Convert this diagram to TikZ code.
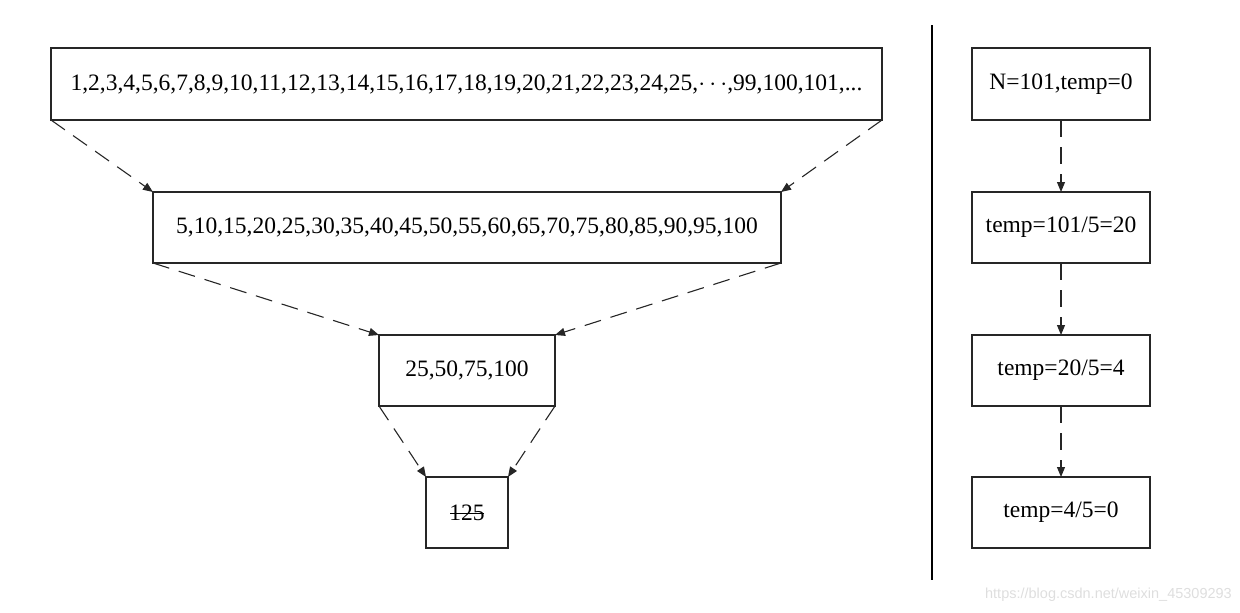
\documentclass[tikz,border=0pt]{standalone}
\usepackage{fontspec}
\setmainfont{Liberation Serif}
\newfontfamily\wmfont{Liberation Sans}
\usetikzlibrary{arrows.meta}
\tikzset{
  box/.style={draw=black!85, line width=1.1pt, outer sep=0pt, inner sep=0pt, align=center,
    font=\fontsize{23.5}{27}\selectfont},
  flow/.style={draw=black!85, line width=1.1pt, dash pattern=on 17pt off 10pt,
    -{Triangle[length=10pt,width=8pt]}},
  sep/.style={draw=black, line width=1.1pt}
}
\begin{document}
\begin{tikzpicture}[x=1pt,y=-1pt]
\useasboundingbox (0,0) rectangle (1240,613);
% left funnel
\node[box, minimum width=831pt, minimum height=72pt] (a) at (466.5,84) {1,2,3,4,5,6,7,8,9,10,11,12,13,14,15,16,17,18,19,20,21,22,23,24,25,${\cdots}$,99,100,101,...};
\node[box, minimum width=628pt, minimum height=71pt] (b) at (467,227.5) {5,10,15,20,25,30,35,40,45,50,55,60,65,70,75,80,85,90,95,100};
\node[box, minimum width=176pt, minimum height=71pt] (c) at (467,370.5) {25,50,75,100};
\node[box, minimum width=82pt, minimum height=71pt] (d) at (467,512.5) {125};
\draw[line width=1pt] ([xshift=-17pt,yshift=-1pt]d.center) -- ([xshift=17pt,yshift=-1pt]d.center);
\draw[flow] (a.south west) -- (b.north west);
\draw[flow] (a.south east) -- (b.north east);
\draw[flow] (b.south west) -- (c.north west);
\draw[flow] (b.south east) -- (c.north east);
\draw[flow] (c.south west) -- (d.north west);
\draw[flow] (c.south east) -- (d.north east);
% separator
\coordinate (s1) at (932,25);
\coordinate (s2) at (932,580);
\draw[sep] (s1) -- (s2);
% right chain
\node[box, minimum width=178pt, minimum height=72pt] (r1) at (1061,84) {N=101,temp=0};
\node[box, minimum width=178pt, minimum height=71pt] (r2) at (1061,227.5) {temp=101/5=20};
\node[box, minimum width=178pt, minimum height=71pt] (r3) at (1061,370.5) {temp=20/5=4};
\node[box, minimum width=178pt, minimum height=71pt] (r4) at (1061,512.5) {temp=4/5=0};
\draw[flow] (r1.south) -- (r2.north);
\draw[flow] (r2.south) -- (r3.north);
\draw[flow] (r3.south) -- (r4.north);
% watermark
\node[anchor=base east, inner sep=0pt, text=black!13, font=\wmfont\fontsize{14.5}{17}\selectfont] (wm) at (1232,598) {https://blog.csdn.net/weixin\_45309293};
\end{tikzpicture}
\end{document}
